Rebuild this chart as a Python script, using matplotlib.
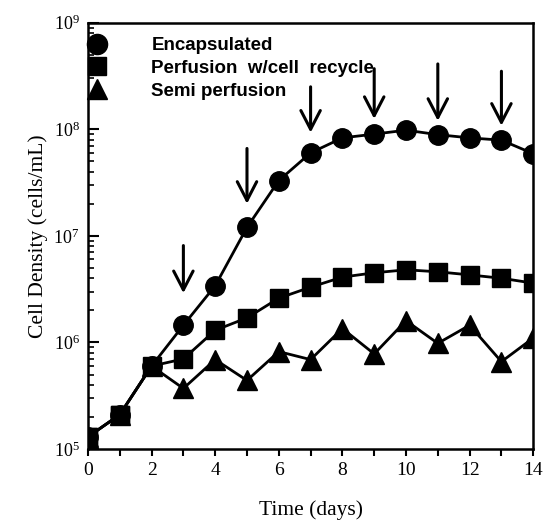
import matplotlib
matplotlib.use("Agg")
import matplotlib.pyplot as plt
from matplotlib.lines import Line2D
from matplotlib.ticker import LogLocator, FixedLocator, NullFormatter

plt.rcParams['font.family'] = ['Liberation Serif', 'DejaVu Serif']
plt.rcParams['mathtext.fontset'] = 'stix'

days = list(range(0, 15))
encapsulated = [1.3e5, 2.1e5, 6.0e5, 1.45e6, 3.4e6, 1.2e7, 3.3e7, 6.0e7, 8.3e7, 9.0e7,
                9.8e7, 8.9e7, 8.3e7, 7.9e7, 5.9e7]
perfusion = [1.3e5, 2.1e5, 6.0e5, 7.0e5, 1.3e6, 1.7e6, 2.6e6, 3.3e6, 4.1e6, 4.5e6,
             4.8e6, 4.6e6, 4.3e6, 4.0e6, 3.6e6]
semi = [1.3e5, 2.1e5, 6.0e5, 3.7e5, 6.9e5, 4.4e5, 8.2e5, 6.9e5, 1.35e6, 7.8e5,
        1.6e6, 9.8e5, 1.45e6, 6.6e5, 1.1e6]
series_labels = ["Encapsulated", "Perfusion  w/cell  recycle", "Semi perfusion"]

arrow_days = [3, 5, 7, 9, 11, 13]
arrow_tail = [8.1e6, 6.6e7, 2.5e8, 3.7e8, 4.1e8, 3.5e8]
arrow_tip = [2.9e6, 2.0e7, 9.3e7, 1.25e8, 1.2e8, 1.08e8]

x_ticks = list(range(0, 15))
x_labels = [str(d) if d % 2 == 0 else "" for d in x_ticks]

fig = plt.figure(figsize=(5.43, 5.27), dpi=100)
ax = fig.add_axes([0.162, 0.148, 0.820, 0.809])

lw = 2.0
ax.plot(days, semi, '-', color='black', lw=lw, marker='^', ms=14.5, zorder=3)
ax.plot(days, perfusion, '-', color='black', lw=lw, marker='s', ms=13, zorder=4)
ax.plot(days, encapsulated, '-', color='black', lw=lw, marker='o', ms=14, zorder=5)
ax.plot(days[:2], perfusion[:2], 's', color='black', ms=13, zorder=6)

for d, t0, t1 in zip(arrow_days, arrow_tail, arrow_tip):
    ax.annotate('', xy=(d, t1), xytext=(d, t0),
                arrowprops=dict(arrowstyle='->,head_length=1.35,head_width=0.7',
                                color='black', lw=2.2, shrinkA=0, shrinkB=0))

ax.set_yscale('log')
ax.set_ylim(1e5, 1e9)
ax.set_xlim(0, 14)

ax.xaxis.set_major_locator(FixedLocator(x_ticks))
ax.set_xticklabels(x_labels)
ax.tick_params(axis='x', direction='out', length=5, width=1.5, labelsize=14, pad=4)
ax.yaxis.set_major_locator(LogLocator(base=10, numticks=10))
ax.yaxis.set_minor_locator(LogLocator(base=10, subs=range(2, 10), numticks=20))
ax.yaxis.set_minor_formatter(NullFormatter())
ax.tick_params(axis='y', which='major', direction='in', length=8, width=1.5, labelsize=13, pad=6)
ax.tick_params(axis='y', which='minor', direction='in', length=4, width=1.2)

for s in ax.spines.values():
    s.set_linewidth(1.8)

ax.set_xlabel('Time (days)', fontsize=15.5, labelpad=16)
ax.set_ylabel('Cell Density (cells/mL)', fontsize=15.5, labelpad=4)

handles = [Line2D([], [], ls='none', marker='o', color='black', ms=14.5),
           Line2D([], [], ls='none', marker='s', color='black', ms=13.5),
           Line2D([], [], ls='none', marker='^', color='black', ms=15)]
leg = ax.legend(handles, series_labels, loc='upper left', bbox_to_anchor=(-0.0135, 0.984),
                frameon=False, handlelength=0.8, handletextpad=2.5, labelspacing=0.3,
                borderaxespad=0.05, borderpad=0.35,
                prop={'family': 'Liberation Sans', 'weight': 'bold', 'size': 13.5})

fig.savefig('out.png', dpi=100)
